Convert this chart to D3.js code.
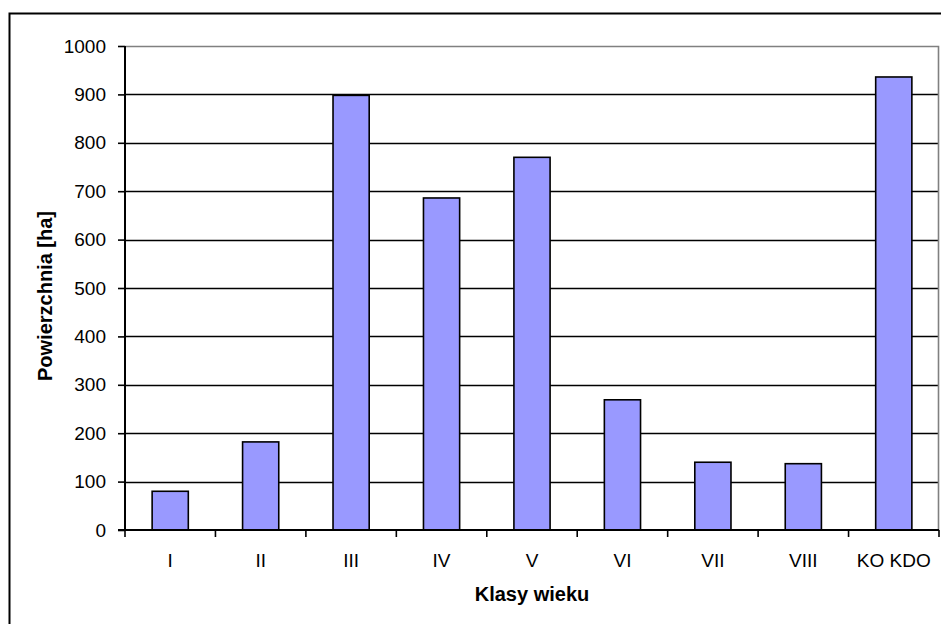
<!DOCTYPE html>
<html><head><meta charset="utf-8">
<script src="https://cdn.jsdelivr.net/npm/d3@7"></script>
<style>body{margin:0;background:#fff}svg{display:block}text{font-family:"Liberation Sans",Arial,sans-serif;fill:#000}</style>
</head><body><svg id="c" width="941" height="624"></svg>
<script>
const categories = ["I","II","III","IV","V","VI","VII","VIII","KO KDO"];
const values = [80, 182, 898, 686, 770, 269, 140, 137, 936];
const yTicks = [0,100,200,300,400,500,600,700,800,900,1000];
const yTitle = "Powierzchnia [ha]";
const xTitle = "Klasy wieku";

const svg = d3.select("#c");
const m = {l:125, r:939, t:46, b:530};
const x = d3.scaleBand().domain(categories).range([m.l, m.r]).paddingInner(0.6).paddingOuter(0.3);
const xb = d3.scaleBand().domain(categories).range([m.l, m.r]);
const y = d3.scaleLinear().domain([0,1000]).range([m.b, m.t]);

svg.append("rect").attr("x",9.5).attr("y",13.5).attr("width",940).attr("height",620)
  .attr("fill","none").attr("stroke","#000").attr("stroke-width",2);

// gridlines
svg.append("g").selectAll("line").data(yTicks.filter(d=>d>0 && d<1000)).join("line")
  .attr("x1",m.l).attr("x2",m.r).attr("y1",d=>Math.round(y(d))+0.5).attr("y2",d=>Math.round(y(d))+0.5)
  .attr("stroke","#000").attr("stroke-width",1.6);
// plot border top/right (gray)
svg.append("path").attr("d",`M${m.l},${m.t+0.5}H${m.r-0.5}V${m.b}`).attr("fill","none")
  .attr("stroke","#808080").attr("stroke-width",1.6);

// bars
svg.append("g").selectAll("rect").data(values).join("rect")
  .attr("x",(d,i)=>x(categories[i])).attr("width",x.bandwidth())
  .attr("y",d=>y(d)).attr("height",d=>y(0)-y(d))
  .attr("fill","#9999FF").attr("stroke","#000").attr("stroke-width",1.6);

// y axis
const ya = d3.axisLeft(y).tickValues(yTicks).tickSize(7).tickPadding(12).tickFormat(d3.format("d"));
const gy = svg.append("g").attr("transform",`translate(${m.l},0)`).call(ya);
gy.select(".domain").attr("stroke","#000").attr("stroke-width",2).attr("d",`M0,${m.t}V${m.b}`);
gy.selectAll(".tick line").attr("stroke","#000").attr("stroke-width",1.6);
gy.selectAll("text").attr("font-size",19).attr("font-family","Liberation Sans, Arial, sans-serif").attr("fill","#000");

// x axis
const gx = svg.append("g").attr("transform",`translate(0,${m.b})`);
gx.append("line").attr("x1",m.l-7).attr("x2",m.r).attr("y1",0).attr("y2",0).attr("stroke","#000").attr("stroke-width",2);
const bounds = categories.map(c=>xb(c)).concat([m.r]);
gx.selectAll("line.t").data(bounds).join("line").attr("class","t")
  .attr("x1",d=>d).attr("x2",d=>d).attr("y1",0).attr("y2",7).attr("stroke","#000").attr("stroke-width",1.6);
gx.selectAll("text").data(categories).join("text")
  .attr("x",d=>xb(d)+xb.bandwidth()/2).attr("y",37).attr("text-anchor","middle")
  .attr("font-size",19).text(d=>d);

svg.append("text").attr("x",(m.l+m.r)/2).attr("y",601).attr("text-anchor","middle")
  .attr("font-size",20).attr("font-weight","bold").text(xTitle);
svg.append("text").attr("transform",`translate(52,${(m.t+m.b)/2 + 8}) rotate(-90)`).attr("text-anchor","middle")
  .attr("font-size",20).attr("font-weight","bold").text(yTitle);
</script></body></html>
